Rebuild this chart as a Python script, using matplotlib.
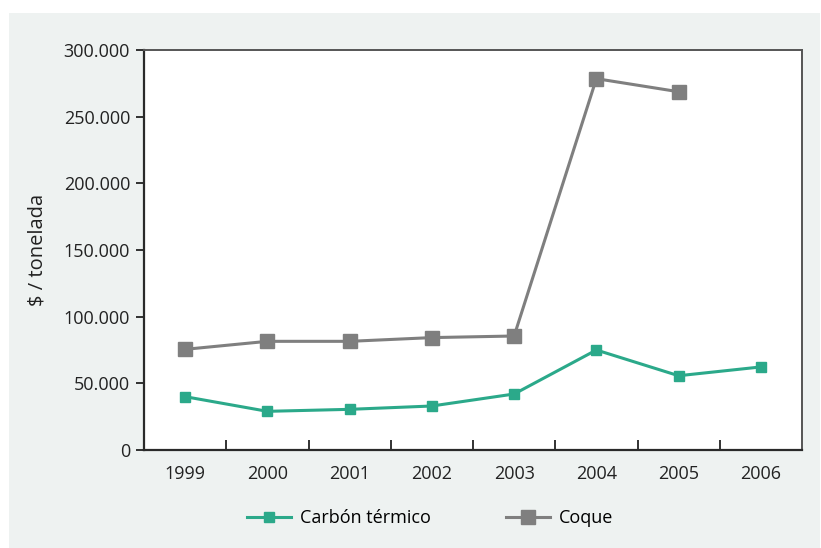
import matplotlib as mpl
import matplotlib.pyplot as plt
from matplotlib.patches import Rectangle
from matplotlib.ticker import FuncFormatter, FixedLocator

years = ['1999', '2000', '2001', '2002', '2003', '2004', '2005', '2006']
carbon_termico = [40000, 29000, 30500, 33000, 42000, 75000, 55700, 62300]
coque = [75500, 81500, 81500, 84300, 85500, 278500, 268700]

green = '#2ba98a'
grey = '#7f7f7f'

mpl.rcParams['font.family'] = ['Open Sans', 'DejaVu Sans']
mpl.rcParams['font.size'] = 13

fig = plt.figure(figsize=(8.21, 5.48), dpi=100, facecolor='white')

# light panel behind the chart
fig.patches.append(Rectangle((9 / 821, 0), 811 / 821, 535 / 548,
                             transform=fig.transFigure, facecolor='#eef2f1',
                             edgecolor='none', zorder=-10))

ax = fig.add_axes([144 / 821, 98 / 548, 658 / 821, 400 / 548])
ax.set_facecolor('white')

x = list(range(len(years)))
ax.plot(x, carbon_termico, color=green, lw=2.2, marker='s', ms=7.5,
        label='Carbón térmico')
ax.plot(x[:len(coque)], coque, color=grey, lw=2.2, marker='s', ms=9.5,
        label='Coque')

ax.set_xlim(-0.5, len(years) - 0.5)
ax.set_ylim(0, 300000)
ax.set_yticks(range(0, 300001, 50000))
ax.yaxis.set_major_formatter(FuncFormatter(lambda v, p: f'{int(v):,}'.replace(',', '.')))

# category labels at centres, tick marks at boundaries
ax.set_xticks(x)
ax.set_xticklabels(years)
ax.tick_params(axis='x', which='major', length=0, pad=11)
ax.xaxis.set_minor_locator(FixedLocator([i + 0.5 for i in range(len(years) - 1)]))
ax.tick_params(axis='x', which='minor', direction='in', length=7, width=1.3, color='#333333')
ax.tick_params(axis='y', direction='out', length=6, width=1.3, color='#333333', pad=4)
ax.tick_params(colors='#222222', which='both')

for s in ['left', 'bottom']:
    ax.spines[s].set_color('#2a2a2a')
    ax.spines[s].set_linewidth(1.6)
for s in ['top', 'right']:
    ax.spines[s].set_color('#555555')
    ax.spines[s].set_linewidth(1.4)

ax.set_ylabel('$ / tonelada', fontsize=14.5, color='#222222', labelpad=12)

fig.legend(loc='center left', bbox_to_anchor=(240 / 821, 30 / 548),
           bbox_transform=fig.transFigure, borderaxespad=0, ncol=2, frameon=False,
           columnspacing=4.2, handlelength=2.4, handletextpad=0.5, fontsize=13)

plt.savefig('out.png', dpi=100, facecolor='white')
